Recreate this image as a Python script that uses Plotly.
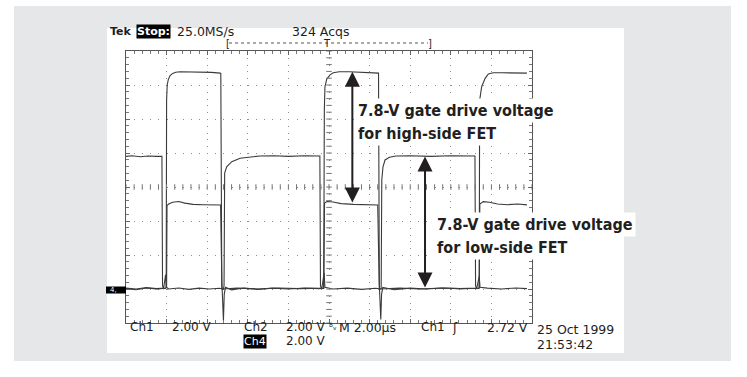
import numpy as np
import plotly.graph_objects as go

# ---------------- values read from the scope screen ----------------
# time in microseconds (2 us/div, 10 div), level in volts (2 V/div, ground 3 div below centre)
ch1_hs_gate = [  # high-side gate (to ground)
    (0.0, 0.05), (0.5, 0.0), (1.0, 0.08), (1.5, 0.02), (1.95, 0.05),
    (1.98, 0.1), (2.0, 11.1), (2.03, 12.0), (2.08, 12.3), (2.17, 12.55), (2.30, 12.68),
    (2.45, 12.75), (2.66, 12.78), (3.2, 12.78), (3.7, 12.76), (4.2, 12.74), (4.64, 12.70),
    (4.67, 12.68), (4.72, 0.0), (5.5, 0.05), (6.5, 0.0), (7.5, 0.06), (8.5, 0.02),
    (9.5, 0.05), (9.74, 0.05), (9.77, 10.5), (9.80, 11.9), (9.89, 12.35), (10.05, 12.6),
    (10.21, 12.72), (10.5, 12.78), (11.0, 12.78), (11.5, 12.76), (12.0, 12.74),
    (12.40, 12.72), (12.44, 12.70), (12.48, 0.0), (13.5, 0.05), (14.5, 0.0), (15.5, 0.06),
    (16.5, 0.02), (17.38, 0.04), (17.40, 0.1), (17.42, 11.1), (17.52, 11.9), (17.69, 12.39),
    (17.85, 12.65), (18.09, 12.72), (18.5, 12.72), (19.0, 12.72), (19.75, 12.70),
]
ch2_switch = [  # switch node
    (0.0, 0.02), (0.5, -0.04), (1.0, 0.06), (1.5, 0.0), (1.95, 0.04), (2.0, 0.1),
    (2.02, 4.9), (2.1, 5.0), (2.3, 5.1), (2.6, 5.15), (2.9, 5.05), (3.3, 4.98), (3.8, 4.96),
    (4.3, 4.95), (4.66, 4.94), (4.72, 0.5), (4.80, -1.85), (4.84, -0.3), (4.90, 0.1),
    (5.2, -0.05), (5.8, 0.06), (6.5, -0.02), (7.2, 0.05), (8.0, 0.0), (8.8, 0.06),
    (9.5, 0.02), (9.74, 0.05), (9.78, 5.05), (9.9, 5.15), (10.2, 5.12), (10.6, 5.02),
    (11.2, 4.98), (11.8, 4.96), (12.4, 4.94), (12.47, 0.5), (12.55, -1.8), (12.59, -0.3),
    (12.65, 0.1), (13.2, -0.04), (14.0, 0.05), (14.8, 0.0), (15.6, 0.06), (16.4, 0.02),
    (17.2, 0.04), (17.40, 0.05), (17.43, 5.0), (17.6, 5.14), (17.9, 5.1), (18.3, 5.0),
    (18.8, 4.96), (19.3, 5.0), (19.75, 4.95),
]
ch4_ls_gate = [  # low-side gate
    (0.0, 7.8), (0.3, 7.84), (0.7, 7.78), (1.1, 7.82), (1.5, 7.8), (1.77, 7.8),
    (1.80, 0.2), (1.85, 0.0), (1.95, 0.85), (1.99, 0.1), (2.1, 0.0), (2.6, 0.06),
    (3.1, -0.02), (3.6, 0.05), (4.1, 0.0), (4.6, 0.04), (4.80, 0.0), (4.83, 0.2),
    (4.86, 6.82), (4.96, 7.19), (5.21, 7.49), (5.62, 7.69), (6.26, 7.78), (6.6, 7.82),
    (7.3, 7.84), (8.0, 7.8), (8.8, 7.84), (9.55, 7.82), (9.58, 0.2), (9.64, 0.0),
    (9.76, 0.95), (9.80, 0.1), (10.2, 0.0), (10.9, 0.05), (11.6, -0.02), (12.3, 0.04),
    (12.57, 0.0), (12.60, 6.41), (12.66, 7.19), (12.76, 7.59), (12.98, 7.75), (13.3, 7.82),
    (14.0, 7.84), (15.0, 7.8), (16.0, 7.84), (17.19, 7.82), (17.22, 0.2), (17.27, 0.0),
    (17.40, 0.75), (17.44, 0.1), (17.8, 0.05), (18.5, 0.0), (19.2, 0.06), (19.75, 0.02),
]

# measured amplitude arrows (time, top level, bottom level)
hs_arrow = (11.15, 12.78, 5.0)
ls_arrow = (14.73, 7.8, 0.0)
hs_note = ["7.8-V gate drive voltage", "for high-side FET"]
ls_note = ["7.8-V gate drive voltage", "for low-side FET"]

# screen readouts
header_texts = ["Tek", "Stop:", "25.0MS/s", "324 Acqs"]
channel_names = ["Ch1", "Ch2", "Ch4"]
channel_scales = ["2.00 V", "2.00 V", "2.00 V"]
bw_mark = "ᴮᵥ"
timebase = "M 2.00µs"
trigger_texts = ["Ch1", "ʃ", "2.72 V"]
date_texts = ["25 Oct 1999", "21:53:42"]

X_RANGE = [0, 20]
Y_RANGE = [-2, 14]

# ---------------- layout geometry (pixels) ----------------
W, H = 747, 377
L, R, T, B = 126, 532, 51, 323


def fx(p):
    return (p - L) / (R - L)


def fy(p):
    return (B - p) / (B - T)


SCOPE_FONT = "DejaVu Sans, Verdana, sans-serif"
NOTE_FONT = "DejaVu Sans Condensed, Liberation Sans Narrow, sans-serif"
TXT = "#1e1e1e"
TRACE = "#3a3a3a"

fig = go.Figure()
for name, pts in [("Ch1", ch1_hs_gate), ("Ch2", ch2_switch), ("Ch4", ch4_ls_gate)]:
    t = [p[0] for p in pts]
    v = [p[1] for p in pts]
    fig.add_trace(go.Scatter(x=t, y=v, mode="lines", name=name,
                             line=dict(color=TRACE, width=1.1), hoverinfo="skip"))

# centre-line tick marks of the graticule (every 1/5 division)
minor_x = np.arange(X_RANGE[0], X_RANGE[1] + 1e-9, 0.4)
minor_y = np.arange(Y_RANGE[0], Y_RANGE[1] + 1e-9, 0.4)
xc = (X_RANGE[0] + X_RANGE[1]) / 2
yc = (Y_RANGE[0] + Y_RANGE[1]) / 2
fig.add_trace(go.Scatter(x=minor_x, y=[yc] * len(minor_x), mode="markers", hoverinfo="skip",
                         marker=dict(symbol="line-ns", size=4, line=dict(width=1, color="#777"))))
fig.add_trace(go.Scatter(x=[xc] * len(minor_y), y=minor_y, mode="markers", hoverinfo="skip",
                         marker=dict(symbol="line-ew", size=4, line=dict(width=1, color="#777"))))

shapes = [
    dict(type="rect", xref="paper", yref="paper", x0=fx(14), x1=fx(731), y0=fy(361), y1=fy(6),
         fillcolor="#e6e7e9", line=dict(width=0), layer="below"),
    dict(type="rect", xref="paper", yref="paper", x0=fx(107), x1=fx(624), y0=fy(353), y1=fy(28),
         fillcolor="white", line=dict(width=0), layer="below"),
    # ground marker
    dict(type="rect", xref="paper", yref="paper", x0=fx(106), x1=fx(126), y0=fy(293.5), y1=fy(286.5),
         fillcolor="black", line=dict(width=0)),
    # trigger position bracket line
    dict(type="line", xref="paper", yref="paper", x0=fx(229), x1=fx(428), y0=fy(43), y1=fy(43),
         line=dict(color="#555", width=1, dash="dot")),
]


def label(text, px, py, size=12.5, color=TXT, bold=False, bg=None, xanchor="left", family=SCOPE_FONT):
    d = dict(text=f"<b>{text}</b>" if bold else text, x=fx(px), y=fy(py), xref="paper", yref="paper",
             xanchor=xanchor, yanchor="middle", showarrow=False, borderpad=0,
             font=dict(family=family, size=size, color=color))
    if bg:
        d["bgcolor"] = bg
    return d


ROW1, ROW2 = 327, 341
ann = [
    label(header_texts[0], 109, 31, size=11, bold=True),
    label(header_texts[1], 136, 31, size=11, bold=True, color="white", bg="black"),
    label(header_texts[2], 176, 31),
    label(header_texts[3], 291, 31),
    label("[", 225, 43, size=10),
    label("T", 326.5, 43, size=10, xanchor="center"),
    label("]", 427, 43, size=10),
    label(channel_names[0], 129, ROW1, size=12),
    label(channel_scales[0], 171, ROW1, size=12),
    label(channel_names[1], 243, ROW1, size=12),
    label(channel_scales[1], 285, ROW1, size=12),
    label(channel_names[2], 243, ROW2, size=11, color="white", bg="black"),
    label(channel_scales[2], 285, ROW2, size=12),
    label(bw_mark, 328, ROW1 - 0.5, size=9),
    label(timebase, 338, ROW1),
    label(trigger_texts[0], 420, ROW1, size=12),
    label(trigger_texts[1], 451, ROW1),
    label(trigger_texts[2], 486, ROW1),
    label(date_texts[0], 536, 329),
    label(date_texts[1], 536, 344),
    label("4,", 109, 290, size=7, color="white"),
]

for lines, px, pys in [(hs_note, 355, (110, 133.3)), (ls_note, 434, (224, 247.3))]:
    for line_text, py in zip(lines, pys):
        ann.append(dict(text=f"<b>{line_text}</b>", x=fx(px), y=fy(py), xref="paper", yref="paper",
                        xanchor="left", yanchor="middle", align="left", showarrow=False,
                        bgcolor="white", borderpad=2,
                        font=dict(family=NOTE_FONT, size=16, color="#231f20")))

for (t, top, bot) in [hs_arrow, ls_arrow]:
    ann.append(dict(text="", x=t, y=top, ax=t, ay=bot, xref="x", yref="y", axref="x", ayref="y",
                    showarrow=True, arrowside="end+start", arrowhead=2, startarrowhead=2,
                    arrowsize=1.5, startarrowsize=1.5, arrowwidth=2, arrowcolor="#231f20",
                    standoff=0, startstandoff=0))

axis_common = dict(showticklabels=False, zeroline=False, showline=True, mirror="ticks",
                   linecolor="#555", linewidth=1, ticks="inside", ticklen=4, tickcolor="#666",
                   showgrid=True, gridcolor="#8c8c8c", gridwidth=1, fixedrange=True)

fig.update_layout(
    width=W, height=H, autosize=False,
    margin=dict(l=L, r=W - R, t=T, b=H - B, pad=0),
    paper_bgcolor="white", plot_bgcolor="rgba(0,0,0,0)",
    showlegend=False, hovermode=False,
    xaxis=dict(range=X_RANGE, dtick=2, griddash="1px,5.8px",
               minor=dict(ticks="inside", ticklen=3, dtick=0.4, tickcolor="#777", showgrid=False),
               **axis_common),
    yaxis=dict(range=Y_RANGE, dtick=2, griddash="1px,7.12px",
               minor=dict(ticks="inside", ticklen=3, dtick=0.4, tickcolor="#777", showgrid=False),
               **axis_common),
    shapes=shapes, annotations=ann,
)

fig.write_html("out.html", config={"displayModeBar": False},
               post_script="document.body.style.margin='0';document.body.style.overflow='hidden';")
